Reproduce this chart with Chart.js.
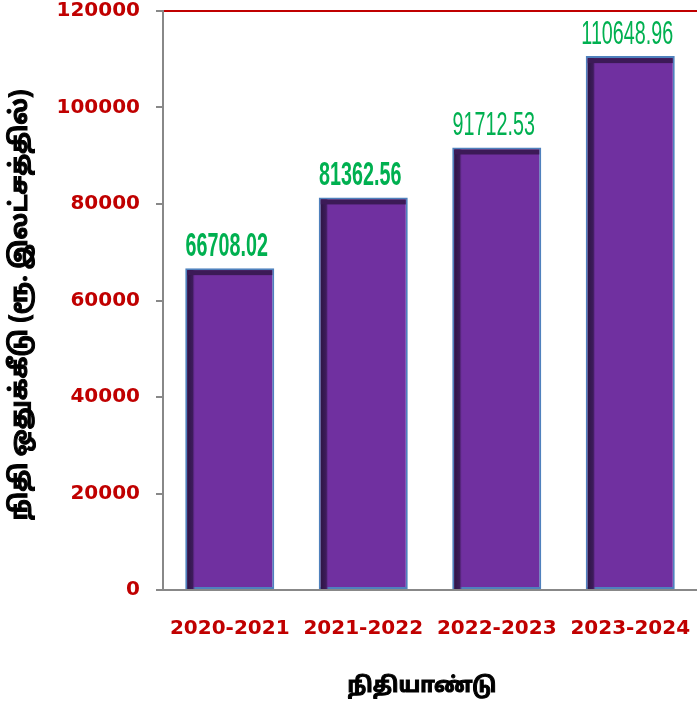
<!DOCTYPE html>
<html>
<head>
<meta charset="utf-8">
<script src="https://cdn.jsdelivr.net/npm/chart.js@4.4.1/dist/chart.umd.min.js"></script>
<style>
  html, body { margin: 0; padding: 0; background: #fff; }
  #wrap { width: 697px; height: 709px; }
</style>
</head>
<body>
<div id="wrap"><canvas id="myChart"></canvas></div>
<script>
// data
const years = ["2020-2021", "2021-2022", "2022-2023", "2023-2024"];
const allocation = [66708.02, 81362.56, 91712.53, 110648.96];
const yTicks = [0, 20000, 40000, 60000, 80000, 100000, 120000];

const yTitle = "நிதி ஒதுக்கீடு (ரூ. இலட்சத்தில்)";
const xTitle = "நிதியாண்டு";

const red = "#c00000";
const tamilFont = "'Noto Sans Tamil', 'Noto Sans Tamil UI', 'Lohit Tamil', 'Noto Sans', sans-serif";

// dark inner edge on top and left of each bar
const barShade = {
    id: "barShade",
    afterDatasetsDraw(chart) {
        const ctx = chart.ctx;
        const meta = chart.getDatasetMeta(0);
        meta.data.forEach(bar => {
            const left = bar.x - bar.width / 2 + 2;
            const top = bar.y + 2;
            const h = bar.base - top;
            const w = bar.width - 4;
            ctx.save();
            const g = ctx.createLinearGradient(left, 0, left + 8, 0);
            g.addColorStop(0, "#2e1545");
            g.addColorStop(0.7, "#3e1c5c");
            g.addColorStop(1, "rgba(112,48,160,0)");
            ctx.fillStyle = g;
            ctx.fillRect(left, top, 8, h);
            ctx.fillStyle = "#3c1a57";
            ctx.fillRect(left, top, w, 5);
            ctx.restore();
        });
    }
};

// value labels above bars, squeezed narrow text
const valueLabels = {
    id: "valueLabels",
    afterDatasetsDraw(chart) {
        const ctx = chart.ctx;
        const meta = chart.getDatasetMeta(0);
        const weights = ["bold", "bold", "normal", "normal"];
        meta.data.forEach((bar, i) => {
            const txt = allocation[i].toFixed(2);
            ctx.save();
            ctx.translate(bar.x - 3, bar.y - 12);
            ctx.scale(0.58, 1);
            ctx.font = weights[i] + " 34px 'Liberation Sans', Arial, sans-serif";
            ctx.fillStyle = "#00b050";
            ctx.textAlign = "center";
            ctx.textBaseline = "alphabetic";
            ctx.fillText(txt, 0, 0);
            ctx.restore();
        });
    }
};

// axis titles, drawn heavy (fill + stroke) since the Tamil font has no bold
const axisTitles = {
    id: "axisTitles",
    afterDraw(chart) {
        const ctx = chart.ctx;
        const area = chart.chartArea;
        ctx.save();
        ctx.fillStyle = "#000";
        ctx.strokeStyle = "#000";
        ctx.lineWidth = 1;
        ctx.textAlign = "center";
        ctx.textBaseline = "middle";

        ctx.font = "bold 21px " + tamilFont;
        ctx.fillText(xTitle, 422, 688);
        ctx.strokeText(xTitle, 422, 688);

        ctx.translate(22, 305);
        ctx.rotate(-Math.PI / 2);
        ctx.font = "bold 24px " + tamilFont;
        ctx.fillText(yTitle, 0, 0);
        ctx.strokeText(yTitle, 0, 0);
        ctx.restore();
    }
};

const canvas = document.getElementById("myChart");

const myChart = new Chart(canvas, {
    type: "bar",
    data: {
        labels: years,
        datasets: [{
            data: allocation,
            backgroundColor: "#7030a0",
            borderColor: "#4f81bd",
            borderWidth: 2,
            borderSkipped: false,
            barPercentage: 0.667,
            categoryPercentage: 1
        }]
    },
    options: {
        responsive: true,
        maintainAspectRatio: false,
        animation: false,
        layout: { padding: { top: 11, right: 0, left: 0, bottom: 0 } },
        plugins: {
            legend: { display: false },
            tooltip: { enabled: false }
        },
        scales: {
            x: {
                grid: { display: false },
                border: { color: "#888888", width: 2 },
                ticks: {
                    color: red,
                    font: { family: "'DejaVu Sans', Verdana, sans-serif", size: 20, weight: "bold" },
                    padding: 19,
                    maxRotation: 0,
                    autoSkip: false
                },
                afterFit(scale) {
                    scale.height = 119;
                    scale.paddingLeft = 0;
                    scale.paddingRight = 0;
                }
            },
            y: {
                min: 0,
                max: 120000,
                afterBuildTicks(scale) { scale.ticks = yTicks.map(v => ({ value: v })); },
                grid: {
                    color: ctx => ctx.tick && ctx.tick.value === 120000 ? red : "rgba(0,0,0,0)",
                    lineWidth: 2,
                    drawTicks: true,
                    tickLength: 7,
                    tickColor: "#888888"
                },
                border: { color: "#888888", width: 2 },
                ticks: {
                    color: red,
                    font: { family: "'DejaVu Sans', Verdana, sans-serif", size: 20, weight: "bold" },
                    padding: 16,
                    callback: v => String(v)
                },
                afterFit(scale) {
                    scale.width = 163;
                    scale.paddingTop = 0;
                    scale.paddingBottom = 0;
                }
            }
        }
    },
    plugins: [barShade, valueLabels, axisTitles]
});
</script>
</body>
</html>
